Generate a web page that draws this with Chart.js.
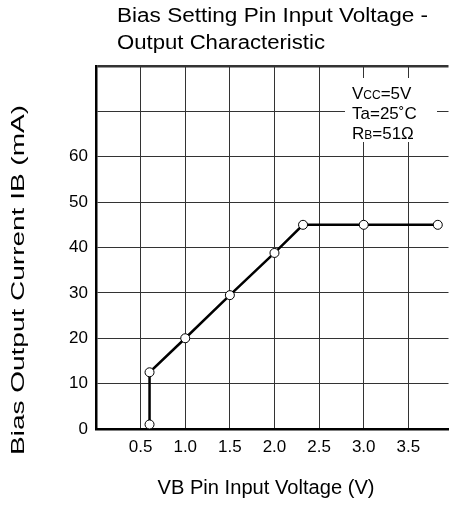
<!DOCTYPE html>
<html lang="en">
  <head>
    <meta charset="UTF-8" />
    <title>Bias Setting Pin Input Voltage - Output Characteristic</title>
    <style>
      html, body { margin: 0; padding: 0; background: #fff; }
      #wrap { width: 454px; height: 506px; position: relative; }
    </style>
  </head>
  <body>
    <div id="wrap"><canvas id="chart" width="454" height="506"></canvas></div>

    <script src="https://cdn.jsdelivr.net/npm/chart.js"></script>
    <script>
      // data
      const voltage = [0.6, 0.6, 1.0, 1.5, 2.0, 2.32, 3.0, 3.83];
      const current = [1, 12.5, 20, 29.5, 38.8, 45, 45, 45];
      const xTicks = [0.5, 1.0, 1.5, 2.0, 2.5, 3.0, 3.5];
      const yTicks = [0, 10, 20, 30, 40, 50, 60];

      const FONT = "Arial, 'Liberation Sans', sans-serif";

      // draws text stretched/squeezed to a given width (left or centre anchored)
      function fitText(c, text, x, y, width, size, align) {
        c.font = size + "px " + FONT;
        const w = c.measureText(text).width;
        c.save();
        c.translate(x, y);
        c.scale(width / w, 1);
        c.textAlign = align;
        c.fillText(text, 0, 0);
        c.restore();
      }

      // title, axis titles and the condition box
      const textPlugin = {
        id: "texts",
        beforeDatasetsDraw(chart) {
          const c = chart.ctx;
          c.save();
          c.fillStyle = "#fff";
          c.fillRect(345, 78, 92, 64);
          c.fillStyle = "#000";
          c.textBaseline = "alphabetic";
          const big = "17px " + FONT, small = "12px " + FONT;
          function parts(x, y, list) {
            list.forEach(([t, f]) => {
              c.font = f;
              c.fillText(t, x, y);
              x += c.measureText(t).width;
            });
          }
          parts(352, 99, [["V", big], ["CC", small], ["=5V", big]]);
          parts(352, 119, [["Ta=25˚C", big]]);
          parts(352, 139, [["R", big], ["B", small], ["=51Ω", big]]);
          c.restore();
        },
        afterDraw(chart) {
          const c = chart.ctx;
          c.save();
          c.fillStyle = "#000";
          c.textBaseline = "middle";
          fitText(c, "Bias Setting Pin Input Voltage -", 117, 16, 311, 20, "left");
          fitText(c, "Output Characteristic", 117, 43, 208, 20, "left");
          fitText(c, "VB Pin Input Voltage (V)", 266, 488, 217, 20, "center");
          c.translate(19, 280);
          c.rotate(-Math.PI / 2);
          fitText(c, "Bias Output Current IB (mA)", 0, 0, 350, 19, "center");
          c.restore();
        },
      };

      const ctx = document.getElementById("chart").getContext("2d");
      new Chart(ctx, {
        type: "scatter",
        data: {
          datasets: [
            {
              data: voltage.map((v, i) => ({ x: v, y: current[i] })),
              showLine: true,
              borderColor: "#000",
              borderWidth: 2.5,
              pointRadius: 4.5,
              pointBackgroundColor: "#fff",
              pointBorderColor: "#000",
              pointBorderWidth: 1,
            },
          ],
        },
        options: {
          responsive: false,
          animation: false,
          layout: { padding: { top: 66, left: 0, right: -6, bottom: 0 } },
          plugins: { legend: { display: false }, tooltip: { enabled: false } },
          scales: {
            x: {
              type: "linear",
              min: 0,
              max: 3.95,
              afterFit(s) { s.height = 77; },
              afterBuildTicks(s) {
                s.ticks = [{ value: 0 }].concat(xTicks.map((v) => ({ value: v })));
              },
              border: { display: true, color: "#000", width: 2.5 },
              grid: { color: "#333", lineWidth: 1, drawTicks: false },
              ticks: {
                padding: 8,
                color: "#000",
                font: { family: FONT, size: 17 },
                callback: (v) => (v === 0 ? "" : v.toFixed(1)),
              },
            },
            y: {
              min: 0,
              max: 80,
              afterFit(s) { s.width = 96; },
              afterBuildTicks(s) {
                s.ticks = yTicks.concat([70, 80]).map((v) => ({ value: v }));
              },
              border: { display: true, color: "#000", width: 2.5 },
              grid: {
                color: "#333",
                lineWidth: (c) => (c.tick && c.tick.value === 80 ? 2.5 : 1),
                drawTicks: false,
              },
              ticks: {
                padding: 8,
                color: "#000",
                font: { family: FONT, size: 17 },
                callback: (v) => (yTicks.includes(v) ? String(v) : ""),
              },
            },
          },
        },
        plugins: [textPlugin],
      });
    </script>
  </body>
</html>
